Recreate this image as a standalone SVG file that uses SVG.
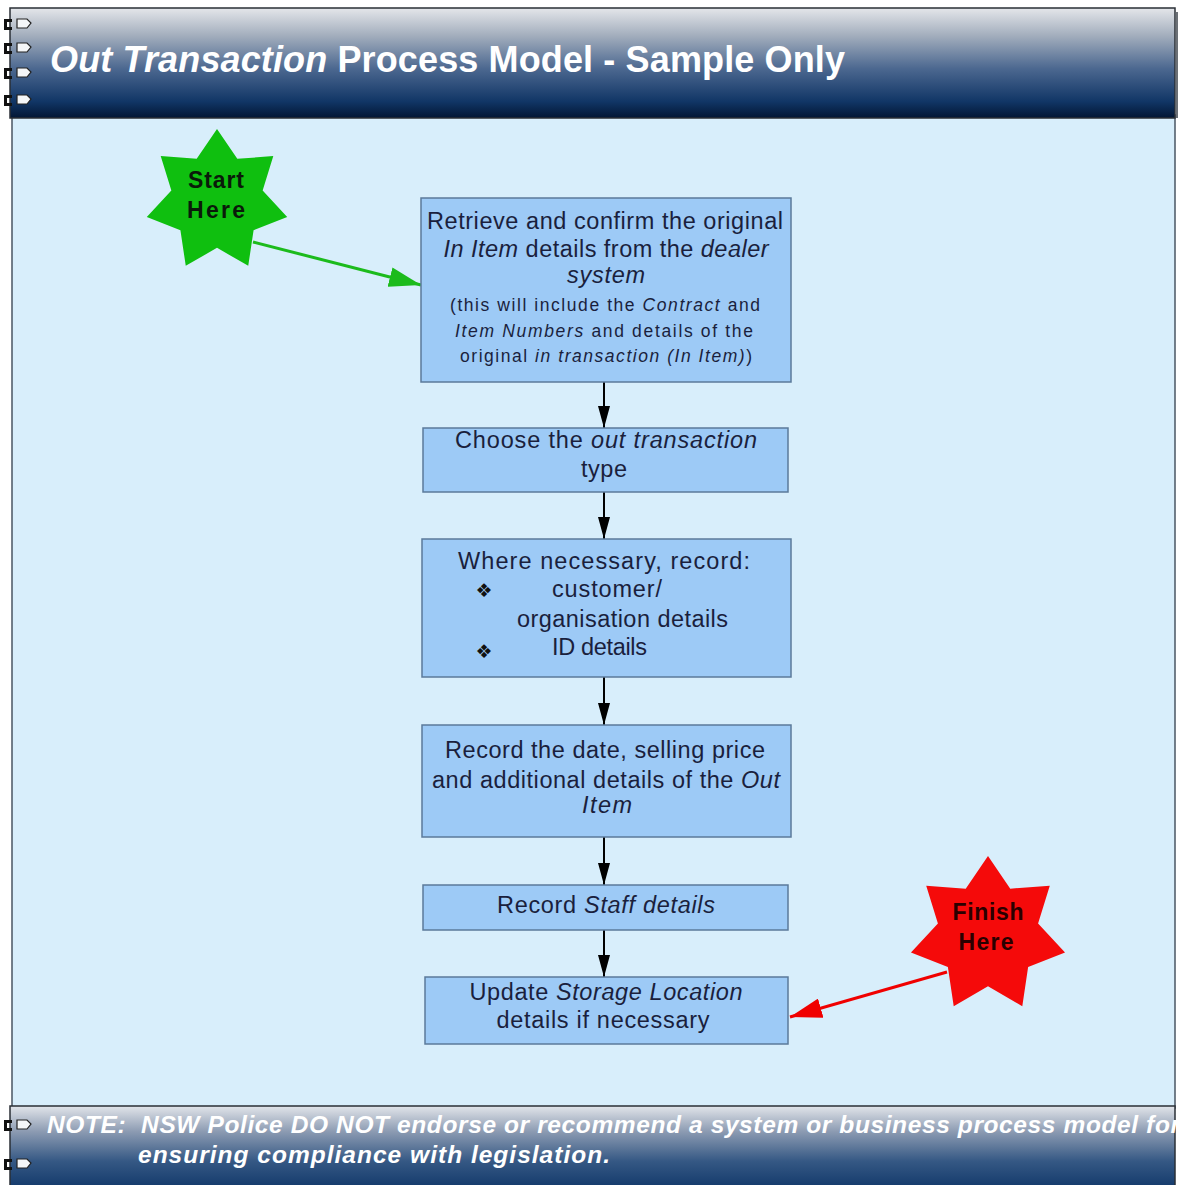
<svg xmlns="http://www.w3.org/2000/svg" width="1179" height="1185" viewBox="0 0 1179 1185">
  <style>
    .box { fill: #9dcaf6; stroke: #5b7a9a; stroke-width: 1.5; }
    .bt { font-family: "Liberation Sans", Arial, sans-serif; font-size: 23.5px; fill: #1a1f3d; text-anchor: middle; }
    .st { font-family: "Liberation Sans", Arial, sans-serif; font-size: 17.5px; fill: #1a1f3d; text-anchor: middle; }
    .lt { text-anchor: start; }
    .star { font-family: "Liberation Sans", Arial, sans-serif; font-size: 23px; font-weight: bold; text-anchor: middle; }
    .banner { font-family: "Liberation Sans", Arial, sans-serif; font-weight: bold; fill: #ffffff; }
    .flow { stroke: #000; stroke-width: 2; fill: none; marker-end: url(#headBlack); }
    .ring-bar { fill: #111; }
    .ring-loop { fill: #f4f6f8; stroke: #222; stroke-width: 1.2; }
    .it { font-style: italic; }
  </style>
  <defs>
    <linearGradient id="headGrad" x1="0" y1="0" x2="0" y2="1">
      <stop offset="0" stop-color="#e4e6ea"/>
      <stop offset="0.25" stop-color="#a3aebd"/>
      <stop offset="0.55" stop-color="#4c6890"/>
      <stop offset="0.85" stop-color="#113666"/>
      <stop offset="1" stop-color="#021634"/>
    </linearGradient>
    <linearGradient id="footGrad" x1="0" y1="0" x2="0" y2="1">
      <stop offset="0" stop-color="#e2e5ea"/>
      <stop offset="0.3" stop-color="#8c9bb2"/>
      <stop offset="0.65" stop-color="#355884"/>
      <stop offset="1" stop-color="#0f3668"/>
    </linearGradient>
    <path id="star7" d="M0,-100 L28.2,-58.6 L78.2,-62.4 L63.4,-14.5 L97.5,22.3 L50.8,40.5 L43.4,90.1 L0,65 L-43.4,90.1 L-50.8,40.5 L-97.5,22.3 L-63.4,-14.5 L-78.2,-62.4 L-28.2,-58.6 Z"/>
    <g id="ring">
      <rect class="ring-bar" x="4" y="-5" width="3" height="11"/>
      <rect class="ring-bar" x="4" y="-5" width="8" height="3"/>
      <rect class="ring-bar" x="4" y="3" width="8" height="3"/>
      <path class="ring-loop" d="M17,-5 H27 L31,-1 L27,4 H17 Z"/>
    </g>
    <marker id="headBlack" viewBox="0 0 22 12" refX="22" refY="6" markerWidth="22" markerHeight="12" markerUnits="userSpaceOnUse" orient="auto">
      <path d="M0,0 L22,6 L0,12 Z" fill="#000"/>
    </marker>
    <marker id="headGreen" viewBox="0 0 32 20" refX="32" refY="10" markerWidth="32" markerHeight="20" markerUnits="userSpaceOnUse" orient="auto">
      <path d="M0,0 L32,10 L0,20 Z" fill="#1cbb1c"/>
    </marker>
    <marker id="headRed" viewBox="0 0 32 20" refX="32" refY="10" markerWidth="32" markerHeight="20" markerUnits="userSpaceOnUse" orient="auto">
      <path d="M0,0 L32,10 L0,20 Z" fill="#f00000"/>
    </marker>
  </defs>

  <rect width="1179" height="1185" fill="#ffffff"/>

  <!-- page frame -->
  <rect x="12" y="115" width="1163" height="993" fill="#d8eefb" stroke="#4a5663" stroke-width="1.5"/>

  <!-- title banner -->
  <g id="header">
    <rect x="10" y="8" width="1165" height="110" fill="url(#headGrad)" stroke="#2a2f36" stroke-width="1.5"/>
    <line x1="1177" y1="12" x2="1177" y2="118" stroke="#3a4048" stroke-width="1.5"/>
    <text class="banner" x="50" y="72" font-size="36" textLength="795" lengthAdjust="spacing"><tspan font-style="italic">Out Transaction</tspan> Process Model - Sample Only</text>
    <use href="#ring" x="0" y="24"/>
    <use href="#ring" x="0" y="48"/>
    <use href="#ring" x="0" y="73"/>
    <use href="#ring" x="0" y="100"/>
  </g>

  <!-- note banner -->
  <g id="footer">
    <rect x="10" y="1106" width="1165" height="85" fill="url(#footGrad)" stroke="#2a2f36" stroke-width="1.5"/>
    <text class="banner" font-style="italic" font-size="24.5" x="47" y="1133" textLength="1133" lengthAdjust="spacing">NOTE:&#160; NSW Police DO NOT endorse or recommend a system or business process model for</text>
    <text class="banner" font-style="italic" font-size="24.5" x="138" y="1163" textLength="472" lengthAdjust="spacing">ensuring compliance with legislation.</text>
    <use href="#ring" x="0" y="1125"/>
    <use href="#ring" x="0" y="1164"/>
  </g>

  <!-- connectors -->
  <g id="connectors">
    <line class="flow" x1="604" y1="382" x2="604" y2="428"/>
    <line class="flow" x1="604" y1="492" x2="604" y2="539"/>
    <line class="flow" x1="604" y1="677" x2="604" y2="725"/>
    <line class="flow" x1="604" y1="837" x2="604" y2="885"/>
    <line class="flow" x1="604" y1="930" x2="604" y2="977"/>
    <line x1="253" y1="242" x2="421" y2="285" stroke="#1cbb1c" stroke-width="3" marker-end="url(#headGreen)"/>
    <line x1="947" y1="972" x2="790" y2="1017" stroke="#f00000" stroke-width="3" marker-end="url(#headRed)"/>
  </g>

  <!-- start / finish markers -->
  <g id="start">
    <use href="#star7" transform="translate(217,201) scale(0.72)" fill="#0fbf0f"/>
    <text class="star" x="216" y="188" fill="#0a1a0a" textLength="56" lengthAdjust="spacing">Start</text>
    <text class="star" x="216" y="218" fill="#0a1a0a" textLength="58" lengthAdjust="spacing">Here</text>
  </g>
  <g id="finish">
    <use href="#star7" transform="translate(988,935) scale(0.79)" fill="#f50a0a"/>
    <text class="star" x="988" y="920" fill="#2a0000" textLength="71" lengthAdjust="spacing">Finish</text>
    <text class="star" x="986" y="950" fill="#2a0000" textLength="55" lengthAdjust="spacing">Here</text>
  </g>

  <!-- process steps -->
  <g id="step1">
    <rect class="box" x="421" y="198" width="370" height="184"/>
    <text class="bt" x="605" y="229" textLength="356" lengthAdjust="spacing">Retrieve and confirm the original</text>
    <text class="bt" x="606" y="257" textLength="325" lengthAdjust="spacing"><tspan class="it">In Item</tspan> details from the <tspan class="it">dealer</tspan></text>
    <text class="bt it" x="606" y="283" textLength="78" lengthAdjust="spacing">system</text>
    <text class="st" x="605" y="311" textLength="310" lengthAdjust="spacing">(this will include the <tspan class="it">Contract</tspan> and</text>
    <text class="st" x="604" y="337" textLength="298" lengthAdjust="spacing"><tspan class="it">Item Numbers</tspan> and details of the</text>
    <text class="st" x="606" y="362" textLength="292" lengthAdjust="spacing">original <tspan class="it">in transaction (In Item)</tspan>)</text>
  </g>
  <g id="step2">
    <rect class="box" x="423" y="428" width="365" height="64"/>
    <text class="bt" x="606" y="448" textLength="302" lengthAdjust="spacing">Choose the <tspan class="it">out transaction</tspan></text>
    <text class="bt" x="604" y="477" textLength="46" lengthAdjust="spacing">type</text>
  </g>
  <g id="step3">
    <rect class="box" x="422" y="539" width="369" height="138"/>
    <text class="bt" x="604" y="569" textLength="292" lengthAdjust="spacing">Where necessary, record:</text>
    <text x="484" y="597" font-family="DejaVu Sans, sans-serif" font-size="19" fill="#111" text-anchor="middle">❖</text>
    <text class="bt lt" x="552" y="597" textLength="110" lengthAdjust="spacing">customer/</text>
    <text class="bt lt" x="517" y="627" textLength="211" lengthAdjust="spacing">organisation details</text>
    <text x="484" y="658" font-family="DejaVu Sans, sans-serif" font-size="19" fill="#111" text-anchor="middle">❖</text>
    <text class="bt lt" x="552" y="655" textLength="95" lengthAdjust="spacing">ID details</text>
  </g>
  <g id="step4">
    <rect class="box" x="422" y="725" width="369" height="112"/>
    <text class="bt" x="605" y="758" textLength="320" lengthAdjust="spacing">Record the date, selling price</text>
    <text class="bt" x="606" y="788" textLength="348" lengthAdjust="spacing">and additional details of the <tspan class="it">Out</tspan></text>
    <text class="bt it" x="607" y="813" textLength="50" lengthAdjust="spacing">Item</text>
  </g>
  <g id="step5">
    <rect class="box" x="423" y="885" width="365" height="45"/>
    <text class="bt" x="606" y="913" textLength="218" lengthAdjust="spacing">Record <tspan class="it">Staff details</tspan></text>
  </g>
  <g id="step6">
    <rect class="box" x="425" y="977" width="363" height="67"/>
    <text class="bt" x="606" y="1000" textLength="273" lengthAdjust="spacing">Update <tspan class="it">Storage Location</tspan></text>
    <text class="bt" x="603" y="1028" textLength="213" lengthAdjust="spacing">details if necessary</text>
  </g>
</svg>
